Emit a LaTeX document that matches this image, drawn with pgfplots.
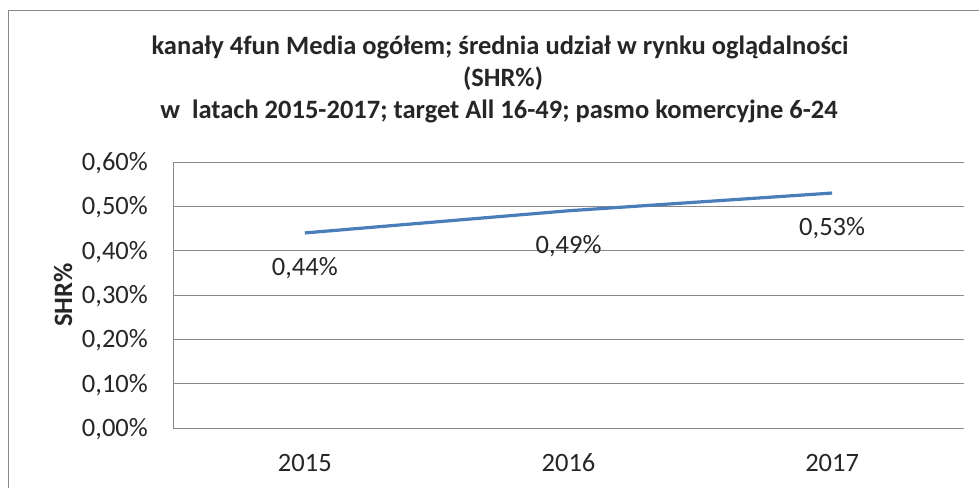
\documentclass[border=0pt]{standalone}
\usepackage{fontspec}
\setmainfont{Carlito}
\usepackage{pgfplots}
\pgfplotsset{compat=1.18}
\definecolor{lineblue}{HTML}{4A7EBB}
\definecolor{gridgray}{HTML}{898989}
\definecolor{txt}{HTML}{262626}
\newcommand{\tickfont}{\fontsize{26.5bp}{30bp}\selectfont}
\newcommand{\titlefont}{\fontsize{26.5bp}{32bp}\selectfont\bfseries}

\begin{document}
\begin{tikzpicture}
\useasboundingbox (0,0) rectangle (979bp,-488bp);
\draw[gridgray, line width=0.8bp] (8bp,-488bp) -- (8bp,-10bp) -- (979bp,-10bp);
\node[txt, font=\titlefont] at (500bp,-47bp) {kanały 4fun Media ogółem; średnia udział w rynku oglądalności};
\node[txt, font=\titlefont] at (503bp,-79bp) {(SHR\%)};
\node[txt, font=\titlefont] at (499bp,-111bp) {w\ \ latach 2015-2017; target All 16-49; pasmo komercyjne 6-24};
\begin{axis}[
  at={(173bp,-428bp)}, anchor=south west,
  scale only axis, width=791bp, height=266bp,
  xmin=-0.5, xmax=2.5, ymin=0, ymax=0.6,
  axis x line*=bottom, axis y line*=left,
  axis line style={gridgray, line width=0.8bp},
  major tick length=0pt,
  xtick={0,1,2}, xticklabels={2015,2016,2017},
  ytick={0,0.1,0.2,0.3,0.4,0.5,0.6},
  yticklabels={{0,00\%},{0,10\%},{0,20\%},{0,30\%},{0,40\%},{0,50\%},{0,60\%}},
  ymajorgrids, grid style={gridgray, line width=0.8bp},
  yticklabel style={font=\tickfont, txt, anchor=base east, inner sep=0pt, xshift=-25bp, yshift=-8.4bp},
  xticklabel style={font=\tickfont, txt, anchor=base, inner sep=0pt, yshift=-43bp},
  ylabel={SHR\%},
  ylabel style={font=\titlefont, txt, at={(axis description cs:-0.139,0.5)}, anchor=center},
  clip=false,
  nodes near coords, point meta=explicit symbolic,
  every node near coord/.append style={font=\tickfont, txt, anchor=center, yshift=-35bp},
]
\addplot[lineblue, line width=3.2bp, mark=none] coordinates {
  (0,0.44) [0,44\%]
  (1,0.49) [0,49\%]
  (2,0.53) [0,53\%]
};
\end{axis}
\end{tikzpicture}
\end{document}
